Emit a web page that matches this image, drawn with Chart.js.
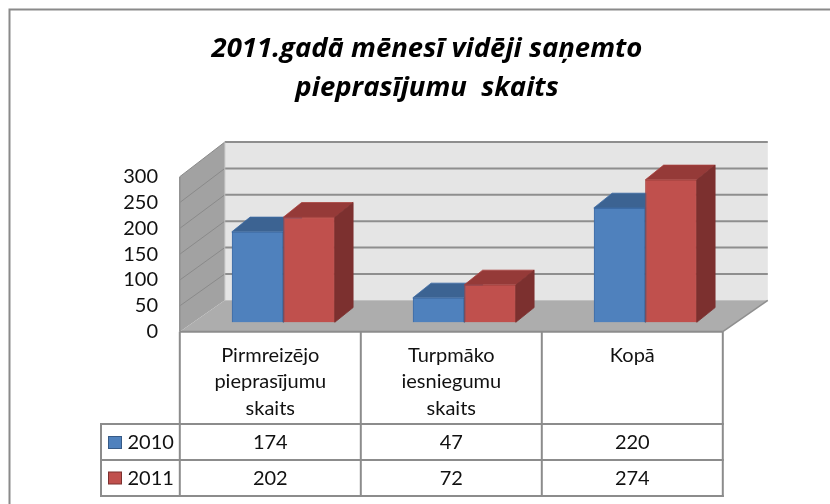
<!DOCTYPE html>
<html>
<head>
<meta charset="utf-8">
<script src="https://cdn.jsdelivr.net/npm/chart.js@4.4.1/dist/chart.umd.min.js"></script>
<style>
html,body{margin:0;padding:0;background:#fff;}
#wrap{width:830px;height:504px;}
</style>
</head>
<body>
<div id="wrap"><canvas id="c" width="830" height="504"></canvas></div>
<script>
// ---- data ----
const categories = [
  ["Pirmreizējo", "pieprasījumu", "skaits"],
  ["Turpmāko", "iesniegumu", "skaits"],
  ["Kopā"]
];
const seriesNames = ["2010", "2011"];
const values2010 = [174, 47, 220];
const values2011 = [202, 72, 274];
const yTicks = [0, 50, 100, 150, 200, 250, 300];
const titleLines = ["2011.gadā mēnesī vidēji saņemto", "pieprasījumu  skaits"];

// ---- styles ----
const FONT = "Lato, 'Open Sans', sans-serif";
const TITLE_FONT = "'Open Sans', 'Noto Sans', sans-serif";
const seriesFront = ["#4f81bd", "#c0504d"];
const seriesBorder = ["#3d6ca6", "#a9413e"];
const seriesTop = ["#3c6392", "#953a38"];
const seriesSide = ["#365a86", "#7c302f"];
const LINE = "#8c8c8c";

// 3D geometry helpers (offsets, not data)
const FRONT_SHIFT = 13;   // front plane vs bar plane (x)
const WALL_DX = 45;       // depth of walls (x)
const BAR_T = 0.3;        // bar front plane depth fraction
const BAR_DX = 18.3, BAR_DY = -14.7;

function poly(ctx, pts, fill, stroke, lw) {
  ctx.beginPath();
  ctx.moveTo(pts[0][0], pts[0][1]);
  for (let i = 1; i < pts.length; i++) ctx.lineTo(pts[i][0], pts[i][1]);
  ctx.closePath();
  if (fill) { ctx.fillStyle = fill; ctx.fill(); }
  if (stroke) { ctx.strokeStyle = stroke; ctx.lineWidth = lw || 1; ctx.stroke(); }
}
function line(ctx, x1, y1, x2, y2, color, lw) {
  ctx.beginPath();
  ctx.moveTo(x1, y1); ctx.lineTo(x2, y2);
  ctx.strokeStyle = color; ctx.lineWidth = lw; ctx.stroke();
}

function geom(chart) {
  const a = chart.chartArea;
  const catW = (a.right - a.left) / categories.length;
  const fL = a.left - FRONT_SHIFT, fR = a.right - FRONT_SHIFT;
  const yF = v => chart.scales.yF.getPixelForValue(v);
  const yB = v => {
    const f = chart.scales.yF.getPixelForValue(v);
    const b = chart.scales.y.getPixelForValue(v);
    return f + (b - f) / BAR_T;
  };
  return { a, catW, fL, fR, bL: fL + WALL_DX, bR: fR + WALL_DX, yF, yB };
}

const scene3d = {
  id: 'scene3d',
  beforeDraw(chart) {
    const ctx = chart.ctx;
    ctx.save();
    ctx.fillStyle = '#fff';
    ctx.fillRect(0, 0, chart.width, chart.height);
    ctx.beginPath();
    ctx.moveTo(9.5, chart.height);
    ctx.lineTo(9.5, 9.5);
    ctx.lineTo(chart.width, 9.5);
    ctx.strokeStyle = '#8a8a8a';
    ctx.lineWidth = 2;
    ctx.stroke();
    ctx.restore();
  },
  beforeDatasetsDraw(chart) {
    const ctx = chart.ctx;
    const g = geom(chart);
    const top = yTicks[yTicks.length - 1];
    ctx.save();
    // back wall
    poly(ctx, [[g.bL, g.yB(top)], [g.bR, g.yB(top)], [g.bR, g.yB(0)], [g.bL, g.yB(0)]], '#e5e5e5');
    // left wall
    poly(ctx, [[g.fL, g.yF(top)], [g.bL, g.yB(top)], [g.bL, g.yB(0)], [g.fL, g.yF(0)]], '#a2a2a2');
    // floor
    poly(ctx, [[g.fL, g.yF(0)], [g.bL, g.yB(0)], [g.bR, g.yB(0)], [g.fR, g.yF(0)]], '#adadad');
    // gridlines
    yTicks.forEach(v => {
      if (v === 0) return;
      line(ctx, g.bL, g.yB(v), g.bR, g.yB(v), '#8e8e8e', 2);
      line(ctx, g.fL, g.yF(v), g.bL, g.yB(v), '#8a8a8a', 1);
    });
    // edges
    line(ctx, g.fL, g.yF(top), g.fL, g.yF(0), '#8f8f8f', 1.5);
    line(ctx, g.bL, g.yB(top), g.bL, g.yB(0), '#bdbdbd', 1);
    line(ctx, g.bR, g.yB(0), g.fR, g.yF(0), '#8f8f8f', 1.5);
    ctx.restore();
  },
  afterDatasetsDraw(chart) {
    const ctx = chart.ctx;
    ctx.save();
    for (let i = 0; i < categories.length; i++) {
      for (let d = 0; d < chart.data.datasets.length; d++) {
        const el = chart.getDatasetMeta(d).data[i];
        el.draw(ctx);
        const p = el.getProps(['x', 'y', 'base', 'width'], true);
        const x1 = p.x - p.width / 2, x2 = p.x + p.width / 2;
        poly(ctx, [[x1, p.y], [x2, p.y], [x2 + BAR_DX, p.y + BAR_DY], [x1 + BAR_DX, p.y + BAR_DY]], seriesTop[d], seriesBorder[d], 0.8);
        poly(ctx, [[x2, p.y], [x2 + BAR_DX, p.y + BAR_DY], [x2 + BAR_DX, p.base + BAR_DY], [x2, p.base]], seriesSide[d], seriesSide[d], 0.8);
      }
    }
    ctx.restore();
  },
  afterDraw(chart) {
    const ctx = chart.ctx;
    const g = geom(chart);
    const tTop = g.yF(0);
    const r1 = 424, r2 = 460, r3 = 496, legL = 101;
    ctx.save();
    // grid of data table
    for (let i = 0; i <= categories.length; i++) {
      const x = g.fL + i * g.catW;
      line(ctx, x, tTop, x, r3 + 1, LINE, 2);
    }
    line(ctx, g.fL, tTop, g.fR, tTop, LINE, 2);
    [r1, r2, r3].forEach(y => line(ctx, legL, y, g.fR + 1, y, LINE, 2));
    line(ctx, legL, r1 - 1, legL, r3 + 1, LINE, 2);
    // texts
    ctx.fillStyle = '#111';
    ctx.font = "20px " + FONT;
    ctx.textAlign = 'center';
    ctx.textBaseline = 'alphabetic';
    categories.forEach((lines, i) => {
      const cx = g.fL + (i + 0.5) * g.catW;
      lines.forEach((t, j) => ctx.fillText(t, cx, 361.5 + j * 26.5));
      ctx.fillText(String(values2010[i]), cx, 449);
      ctx.fillText(String(values2011[i]), cx, 484.5);
    });
    // legend keys
    const rowsBase = [449, 484.5];
    seriesNames.forEach((n, d) => {
      const yb = rowsBase[d];
      ctx.fillStyle = seriesFront[d];
      ctx.fillRect(108.5, yb - 12.5, 13, 12);
      ctx.strokeStyle = seriesSide[d];
      ctx.lineWidth = 1;
      ctx.strokeRect(108.5, yb - 12.5, 13, 12);
      ctx.fillStyle = '#111';
      ctx.textAlign = 'left';
      ctx.fillText(n, 127.5, yb);
    });
    ctx.restore();
  }
};

new Chart(document.getElementById('c'), {
  type: 'bar',
  data: {
    labels: categories,
    datasets: [
      { label: seriesNames[0], data: values2010, backgroundColor: seriesFront[0], borderColor: seriesBorder[0], borderWidth: 1 },
      { label: seriesNames[1], data: values2011, backgroundColor: seriesFront[1], borderColor: seriesBorder[1], borderWidth: 1 }
    ]
  },
  options: {
    responsive: false,
    animation: false,
    devicePixelRatio: 1,
    categoryPercentage: 0.569,
    barPercentage: 1,
    layout: { padding: { left: 118.2, right: 94.2, top: 0, bottom: 172.3 } },
    plugins: {
      legend: { display: false },
      tooltip: { enabled: false },
      title: {
        display: true,
        text: titleLines,
        color: '#000',
        font: { family: TITLE_FONT, size: 27.5, weight: 'bold', style: 'italic', lineHeight: 39 / 27.5 },
        padding: { top: 29.5, bottom: 58.8 }
      }
    },
    scales: {
      x: { display: false },
      y: { display: false, min: -18.1, max: 300 },
      yF: {
        position: 'left',
        min: 0,
        max: 320.1,
        grid: { display: false, drawTicks: false },
        border: { display: false },
        afterBuildTicks: s => { s.ticks = yTicks.map(v => ({ value: v })); },
        afterFit: s => { s.width = 74.6; },
        ticks: { autoSkip: false, padding: 34.8, color: '#111', font: { family: FONT, size: 20 } }
      }
    }
  },
  plugins: [scene3d]
});
</script>
</body>
</html>
